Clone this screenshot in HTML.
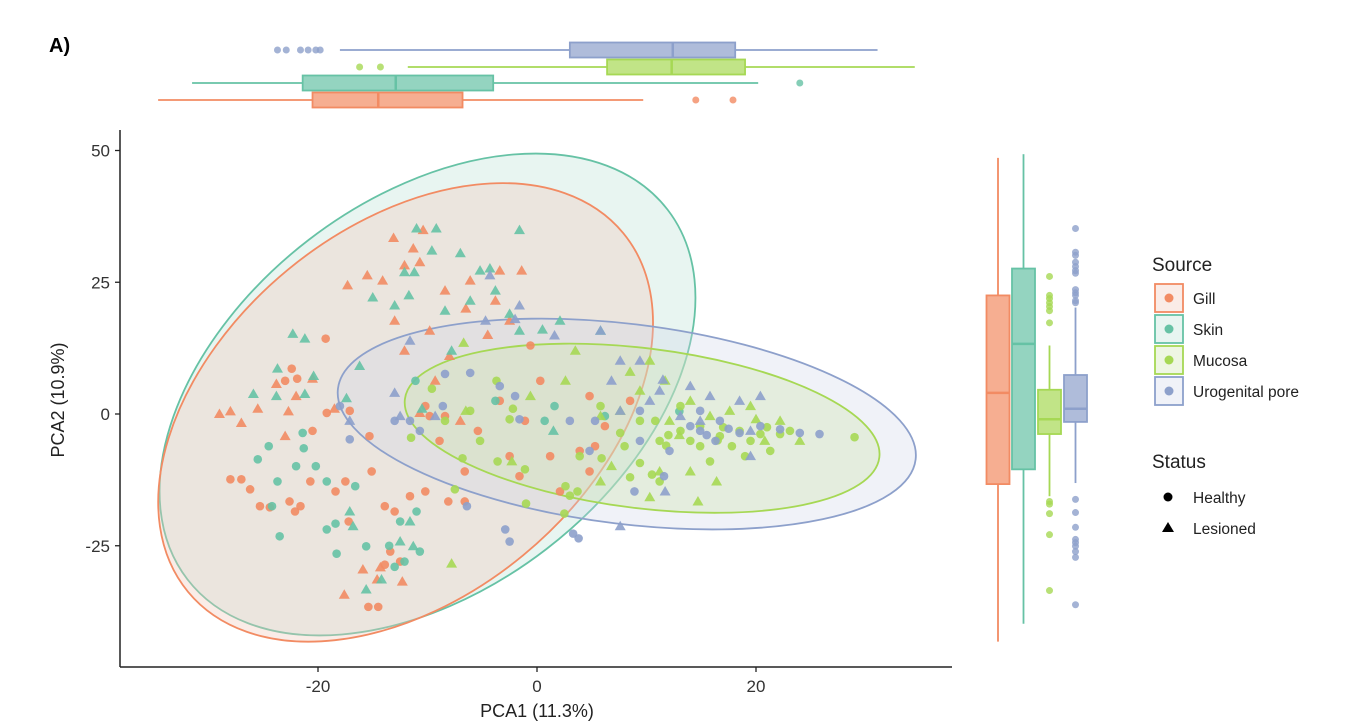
<!DOCTYPE html>
<html><head><meta charset="utf-8"><style>
body{margin:0;background:#fff;}
svg{display:block;font-family:"Liberation Sans",Arial,sans-serif;}
</style></head><body>
<svg id="c" width="1350" height="728" viewBox="0 0 1350 728">
<text x="49" y="52" font-size="20" font-weight="bold">A)</text>
<g id="ell"></g>
<g id="pts"></g>
<g id="topbox"></g>
<g id="rightbox"></g>
<g id="axes"></g>
<text x="537" y="717" font-size="18" text-anchor="middle" fill="#222">PCA1 (11.3%)</text>
<text transform="translate(64,400) rotate(-90)" font-size="18" text-anchor="middle" fill="#222">PCA2 (10.9%)</text>
<g>
<text x="1152" y="271" font-size="19" fill="#222">Source</text>
<g id="leg"></g>
<text x="1152" y="468" font-size="19" fill="#222">Status</text>
<circle cx="1168" cy="497" r="4.5" fill="#000"/>
<text x="1193" y="503" font-size="15.5" fill="#222">Healthy</text>
<polygon points="1168,522 1174,532 1162,532" fill="#000"/>
<text x="1193" y="534" font-size="15.5" fill="#222">Lesioned</text>
</g>
</svg>
<script>
const groups = ["Gill","Skin","Mucosa","Urogenital pore"];
const colors = ["#F28B63","#66C2A5","#A6D854","#8DA0CB"];
const xTicks = [-20,0,20];
const yTicks = [-25,0,25,50];
// points: [PCA1, PCA2, status 0=healthy 1=lesioned]
const gillPts = [[-13.1,33.4,1],[-10.4,34.9,1],[-11.3,31.4,1],[-12.1,28.2,1],[-10.7,28.8,1],[-15.5,26.3,1],[-17.3,24.4,1],[-14.1,25.3,1],[-13,17.7,1],[-12.1,12,1],[-9.8,15.8,1],[-8.4,23.4,1],[-6.1,25.3,1],[-3.4,27.2,1],[-1.4,27.2,1],[-3.8,21.5,1],[-2.5,17.7,1],[-9.3,6.3,1],[-10.7,0.2,1],[-7,-1.3,1],[-29,0,1],[-28,0.5,1],[-27,-1.7,1],[-25.5,1,1],[-23.8,5.7,1],[-22.7,0.5,1],[-22,3.4,1],[-20.5,6.7,1],[-18.5,1,1],[-23,-4.2,1],[-15.9,-29.5,1],[-17.6,-34.3,1],[-14.6,-31.4,1],[-14.3,-29.1,1],[-12.3,-31.8,1],[-6.5,20,1],[-4.5,15,1],[-8,11,1],
[-19.3,14.3,0],[-22.4,8.6,0],[-21.9,6.7,0],[-23,6.3,0],[-19.2,0.2,0],[-20.5,-3.2,0],[-28,-12.4,0],[-27,-12.4,0],[-26.2,-14.3,0],[-25.3,-17.5,0],[-24.4,-17.7,0],[-22.6,-16.6,0],[-22.1,-18.5,0],[-21.6,-17.5,0],[-20.7,-12.8,0],[-18.4,-14.7,0],[-17.5,-12.8,0],[-15.1,-10.9,0],[-17.2,-20.4,0],[-13.9,-17.5,0],[-13,-18.5,0],[-11.6,-15.6,0],[-10.2,-14.7,0],[-8.1,-16.6,0],[-13.4,-26.1,0],[-13.9,-28.6,0],[-15.4,-36.6,0],[-14.5,-36.6,0],[-12.5,-28,0],[-10.2,1.5,0],[-9.8,-0.4,0],[-17.1,0.6,0],[-15.3,-4.2,0],[-8.9,-5.1,0],[-6.6,-10.9,0],[0.3,6.3,0],[-1.1,-1.3,0],[-8.4,-0.4,0],[-2.5,-8,0],[-1.6,-11.8,0],[1.2,-8,0],[3.9,-7,0],[5.3,-6.1,0],[4.8,-10.9,0],[2.1,-14.7,0],[-3.4,2.5,0],[-5.4,-3.2,0],[6.2,-2.3,0],[8.5,2.5,0],[4.8,3.4,0],[-0.6,13,0],[-6.6,-16.6,0]];
const skinPts = [[-11,35.2,1],[-9.2,35.2,1],[-9.6,31,1],[-7,30.5,1],[-12.1,26.9,1],[-11.2,26.9,1],[-5.2,27.2,1],[-4.3,27.6,1],[-11.7,22.5,1],[-13,20.6,1],[-15,22.1,1],[-8.4,19.6,1],[-6.1,21.5,1],[-3.8,23.4,1],[-22.3,15.2,1],[-21.2,14.3,1],[-23.7,8.6,1],[-20.4,7.2,1],[-23.8,3.4,1],[-25.9,3.8,1],[-21.2,3.8,1],[-17.4,3,1],[-16.2,9.1,1],[-7.8,12,1],[-10.5,1,1],[1.5,-3.2,1],[-1.6,15.8,1],[2.1,17.7,1],[5.8,15.8,1],[-17.1,-18.5,1],[-16.8,-21.3,1],[-14.2,-31.4,1],[-15.6,-33.3,1],[-11.6,-20.4,1],[-12.5,-24.2,1],[-11.3,-25.1,1],[-1.6,34.9,1],[-2.5,19,1],[0.5,16,1],
[-21.4,-3.6,0],[-24.5,-6.1,0],[-25.5,-8.6,0],[-21.3,-6.5,0],[-22,-9.9,0],[-20.2,-9.9,0],[-23.7,-12.8,0],[-24.2,-17.5,0],[-23.5,-23.2,0],[-19.2,-21.9,0],[-18.4,-20.8,0],[-19.2,-12.8,0],[-16.6,-13.7,0],[-12.5,-20.4,0],[-11,-18.5,0],[-18.3,-26.5,0],[-15.6,-25.1,0],[-12.1,-28,0],[-13,-29,0],[-3.8,2.5,0],[0.7,-1.3,0],[1.6,1.5,0],[6.2,-0.4,0],[-11.1,6.3,0],[-10.7,-26.1,0],[13,0.5,0],[-13.5,-25,0]];
const mucosaPts = [[-6.1,0.6,0],[-2.2,1,0],[-5.2,-5.1,0],[-9.6,4.8,0],[-8.4,-1.3,0],[-3.7,6.3,0],[-7.5,-14.3,0],[-6.8,-8.4,0],[-1.1,-10.5,0],[2.6,-13.7,0],[3.7,-14.7,0],[5.9,-8.4,0],[7.6,-3.6,0],[9.4,-1.3,0],[11.2,-5.1,0],[13.1,-3.2,0],[14.9,-2.3,0],[16.7,-4.2,0],[18.5,-3.2,0],[20.4,-3.8,0],[22.2,-3.8,0],[23.1,-3.2,0],[29,-4.4,0],[9.4,-9.3,0],[11.2,-12.8,0],[10.5,-11.5,0],[14.9,-6.1,0],[15.8,-9,0],[19,-8,0],[21.3,-7,0],[13.1,1.5,0],[5.8,1.5,0],[3.9,-8,0],[-2.5,-1,0],[-3.6,-9,0],[2.5,-18.9,0],[3,-15.5,0],[14,-5.1,0],[17.8,-6.1,0],[10.8,-1.3,0],[8,-6.1,0],[11.8,-6,0],[19.5,-5.1,0],[16.5,-5,0],[12,-4,0],[17,-2.5,0],[21,-2.5,0],[8.5,-12,0],[-11.5,-4.5,0],[-1,-17,0],
[3.5,12,1],[2.6,6.3,1],[-0.6,3.4,1],[5.8,-0.4,1],[7.6,0.6,1],[9.4,4.4,1],[10.3,10.1,1],[11.7,6.3,1],[14,2.5,1],[15.8,-0.4,1],[17.6,0.6,1],[19.5,1.5,1],[24,-5.1,1],[16.4,-12.8,1],[14.7,-16.6,1],[10.3,-15.8,1],[5.8,-12.8,1],[6.8,-9.9,1],[-2.3,-9,1],[-7.8,-28.4,1],[-6.7,13.5,1],[-6.5,0.6,1],[12.1,-1.3,1],[11.2,-10.9,1],[14,-10.9,1],[20.8,-5.1,1],[22.2,-1.3,1],[20,-1,1],[8.5,8,1],[13,-4,1]];
const uroPts = [[-13,-1.3,0],[-10.7,-3.2,0],[-8.6,1.5,0],[-1.6,-1,0],[3,-1.3,0],[5.3,-1.3,0],[9.4,0.6,0],[14,-2.3,0],[14.9,-3.2,0],[16.7,-1.3,0],[18.5,-3.6,0],[20.4,-2.3,0],[22.2,-2.9,0],[24,-3.6,0],[25.8,-3.8,0],[16.3,-5.1,0],[12.1,-7,0],[9.4,-5.1,0],[11.6,-11.8,0],[8.9,-14.7,0],[-2.9,-21.9,0],[-2.5,-24.2,0],[3.3,-22.7,0],[3.8,-23.6,0],[-6.4,-17.5,0],[-18,1.5,0],[-17.1,-4.8,0],[-11.6,-1.3,0],[-8.4,7.6,0],[-6.1,7.8,0],[-3.4,5.3,0],[-2,3.4,0],[4.8,-7,0],[14.9,0.6,0],[17.5,-2.8,0],[15.5,-4,0],
[-4.3,26.3,1],[-4.7,17.7,1],[-1.6,20.6,1],[1.6,14.9,1],[5.8,15.8,1],[7.6,10.1,1],[9.4,10.1,1],[6.8,6.3,1],[11.2,4.4,1],[14,5.3,1],[15.8,3.4,1],[18.5,2.5,1],[20.4,3.4,1],[7.6,0.6,1],[10.3,2.5,1],[13.1,-0.4,1],[14.9,-1.3,1],[19.5,-3.2,1],[19.5,-8,1],[11.7,-14.7,1],[7.6,-21.3,1],[-11.6,13.9,1],[-13,4,1],[-12.5,-0.4,1],[-9.3,-0.4,1],[-17.1,-1.3,1],[11.5,6.5,1],[-2,18,1]];
const allPts = [gillPts, skinPts, mucosaPts, uroPts];
// ellipses: [centerX, centerY (data)], [semi-major px, semi-minor px], angle deg
const ellCenters = [[-12,0.3],[-10,3.7],[9.6,-2.7],[8.2,-1.9]];
const ellAxes = [[282,185],[303,195],[239,80],[291,100]];
const ellAngles = [-39.5,-37.6,7,7];
const ellFill = ["rgba(240,200,185,0.35)","rgba(190,225,214,0.35)","rgba(205,230,175,0.35)","rgba(205,212,232,0.3)"];
// top (PCA1) boxplots: [whiskLo,q1,median,q3,whiskHi]
const xBoxStats = [[-34.6,-20.5,-14.5,-6.8,9.7],[-31.5,-21.4,-12.9,-4,20.2],[-11.8,6.4,12.3,19,34.5],[-18,3,12.4,18.1,31.1]];
const xBoxOut = [[14.5,17.9],[24],[-16.2,-14.3],[-23.7,-22.9,-21.6,-20.9,-20.2,-19.8]];
// right (PCA2) boxplots
const yBoxStats = [[-43.2,-13.3,4,22.5,48.6],[-39.8,-10.5,13.3,27.6,49.3],[-15.6,-3.8,-1,4.6,13],[-13.1,-1.5,1,7.4,20.2]];
const yBoxOut = [[],[],[26.1,22.5,21.9,21.1,20.4,19.6,17.3,-16.6,-17.1,-18.9,-22.9,-33.5],[35.2,30.7,30.1,28.8,28,27.2,26.7,23.6,23,22.5,21.5,21.1,-16.2,-18.7,-21.5,-23.8,-24.4,-25.1,-26.1,-27.2,-36.2]];

const X = v => 537 + v*10.95;
const Y = v => 414 - v*5.27;
const NS="http://www.w3.org/2000/svg";
function mk(tag, attrs, parent){const e=document.createElementNS(NS,tag);for(const k in attrs)e.setAttribute(k,attrs[k]);parent.appendChild(e);return e;}
const gE=document.getElementById('ell'), gP=document.getElementById('pts'), gT=document.getElementById('topbox'), gR=document.getElementById('rightbox'), gA=document.getElementById('axes'), gL=document.getElementById('leg');
[1,0,3,2].forEach(i=>{
  const cx=X(ellCenters[i][0]), cy=Y(ellCenters[i][1]);
  const e=mk('ellipse',{cx:cx,cy:cy,rx:ellAxes[i][0],ry:ellAxes[i][1],transform:`rotate(${ellAngles[i]} ${cx} ${cy})`,fill:ellFill[i],stroke:colors[i],'stroke-width':1.8},gE);
  
  
});
allPts.forEach((arr,i)=>{
  arr.forEach(p=>{
    const x=X(p[0]), y=Y(p[1]); let e;
    if(p[2]===0){ e=mk('circle',{cx:x,cy:y,r:4.3,fill:colors[i],'fill-opacity':0.9},gP); }
    else { e=mk('polygon',{points:`${x},${y-5.5} ${x+5.5},${y+4} ${x-5.5},${y+4}`,fill:colors[i],'fill-opacity':0.9},gP); }
    
    
  });
});
const topRows=[100,83,67,50];
xBoxStats.forEach((s,i)=>{
  const cy=topRows[i], g=mk('g',{},gT);
  
  
  mk('line',{x1:X(s[0]),x2:X(s[1]),y1:cy,y2:cy,stroke:colors[i],'stroke-width':1.8},g);
  mk('line',{x1:X(s[3]),x2:X(s[4]),y1:cy,y2:cy,stroke:colors[i],'stroke-width':1.8},g);
  mk('rect',{x:X(s[1]),y:cy-7.5,width:X(s[3])-X(s[1]),height:15,fill:colors[i],'fill-opacity':0.7,stroke:colors[i],'stroke-width':1.8},g);
  mk('line',{x1:X(s[2]),x2:X(s[2]),y1:cy-7.5,y2:cy+7.5,stroke:colors[i],'stroke-width':2.5},g);
  xBoxOut[i].forEach(o=>mk('circle',{cx:X(o),cy:cy,r:3.5,fill:colors[i],'fill-opacity':0.8},g));
});
const rightCols=[998,1023.5,1049.5,1075.5];
yBoxStats.forEach((s,i)=>{
  const cx=rightCols[i], g=mk('g',{},gR);
  
  
  mk('line',{x1:cx,x2:cx,y1:Y(s[0]),y2:Y(s[1]),stroke:colors[i],'stroke-width':1.8},g);
  mk('line',{x1:cx,x2:cx,y1:Y(s[3]),y2:Y(s[4]),stroke:colors[i],'stroke-width':1.8},g);
  mk('rect',{x:cx-11.5,y:Y(s[3]),width:23,height:Y(s[1])-Y(s[3]),fill:colors[i],'fill-opacity':0.7,stroke:colors[i],'stroke-width':1.8},g);
  mk('line',{x1:cx-11.5,x2:cx+11.5,y1:Y(s[2]),y2:Y(s[2]),stroke:colors[i],'stroke-width':2.5},g);
  yBoxOut[i].forEach(o=>mk('circle',{cx:cx,cy:Y(o),r:3.5,fill:colors[i],'fill-opacity':0.8},g));
});
mk('line',{x1:120,x2:120,y1:130,y2:667,stroke:'#222','stroke-width':1.5},gA);
mk('line',{x1:120,x2:952,y1:667,y2:667,stroke:'#222','stroke-width':1.5},gA);
yTicks.forEach(t=>{
  mk('line',{x1:115,x2:120,y1:Y(t),y2:Y(t),stroke:'#222','stroke-width':1.3},gA);
  const tx=mk('text',{x:110,y:Y(t)+6,'font-size':17,'text-anchor':'end',fill:'#333'},gA);tx.textContent=t;
  
  
});
xTicks.forEach(t=>{
  mk('line',{x1:X(t),x2:X(t),y1:667,y2:672,stroke:'#222','stroke-width':1.3},gA);
  const tx=mk('text',{x:X(t),y:692,'font-size':17,'text-anchor':'middle',fill:'#333'},gA);tx.textContent=t;
  
  
});
groups.forEach((g,i)=>{
  const y=298+i*31;
  const r=mk('rect',{x:1155,y:y-14,width:28,height:28,fill:ellFill[i],stroke:colors[i],'stroke-width':1.8},gL);
  
  
  mk('circle',{cx:1169,cy:y,r:4.5,fill:colors[i]},gL);
  const t=mk('text',{x:1193,y:y+6,'font-size':15.5,fill:'#222'},gL);t.textContent=g;
  
  
});
</script>
</body></html>
